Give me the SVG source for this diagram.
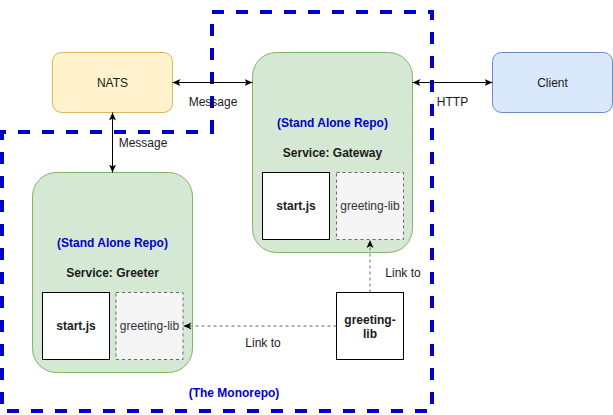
<svg xmlns="http://www.w3.org/2000/svg" width="613" height="415" viewBox="0 0 613 415">
<defs>
<style>
text{font-family:"Liberation Sans",Arial,Helvetica,sans-serif;font-size:12px;text-anchor:middle;fill:#1a1a1a}
.b{font-weight:bold}
.blue{fill:#0000cc;font-weight:bold}
.gray{fill:#333333}
.green{fill:#d5e8d4;stroke:#82b366;stroke-width:1}
.file{fill:#ffffff;stroke:#000000;stroke-width:1}
.lib{fill:#f5f5f5;stroke:#666666;stroke-width:1;stroke-dasharray:3 3}
.edge{fill:none;stroke:#000000;stroke-width:1}
.dedge{fill:none;stroke:#666666;stroke-width:1;stroke-dasharray:3 3}
</style>
<marker id="arr" viewBox="0 0 9 8" refX="8" refY="4" markerWidth="9" markerHeight="8" markerUnits="userSpaceOnUse" orient="auto-start-reverse">
<path d="M0,0.5 L8,4 L0,7.5 L2,4 Z" fill="#000000"/>
</marker>
</defs>
<g id="monorepo">
<path d="M212,132 L212,12 L432,12 L432,411 L2,411 L2,132 Z" fill="none" stroke="#0000cc" stroke-width="4" stroke-dasharray="12 12"/>
<text class="blue" x="234" y="396.5">(The Monorepo)</text>
</g>
<g id="nats">
<rect x="52.5" y="52.5" width="120" height="60" rx="9" fill="#fff2cc" stroke="#d6b656"/>
<text x="112.5" y="86.5">NATS</text>
</g>
<g id="client">
<rect x="492.5" y="52.5" width="120" height="60" rx="9" fill="#dae8fc" stroke="#6c8ebf"/>
<text x="552.5" y="86.5">Client</text>
</g>
<g id="gateway">
<rect class="green" x="252.5" y="52.5" width="160" height="200" rx="24"/>
<text class="blue" x="332.5" y="126.5">(Stand Alone Repo)</text>
<text class="b" x="332.5" y="157">Service: Gateway</text>
</g>
<g id="gateway-start">
<rect class="file" x="262.5" y="172.5" width="67" height="67"/>
<text class="b" x="296" y="210">start.js</text>
</g>
<g id="gateway-lib">
<rect class="lib" x="336.5" y="172.5" width="67" height="67"/>
<text class="gray" x="370" y="210">greeting-lib</text>
</g>
<g id="greeter">
<rect class="green" x="32.5" y="172.5" width="160" height="200" rx="24"/>
<text class="blue" x="112.5" y="246.5">(Stand Alone Repo)</text>
<text class="b" x="112.5" y="276.5">Service: Greeter</text>
</g>
<g id="greeter-start">
<rect class="file" x="42.5" y="292.5" width="67" height="67"/>
<text class="b" x="76" y="330">start.js</text>
</g>
<g id="greeter-lib">
<rect class="lib" x="116" y="292.5" width="67" height="67"/>
<text class="gray" x="149.5" y="330">greeting-lib</text>
</g>
<g id="greeting-lib">
<rect class="file" x="336.5" y="292.5" width="67" height="67"/>
<text class="b" x="370" y="324">greeting-</text>
<text class="b" x="370" y="337.5">lib</text>
</g>
<g id="connectors">
<line class="edge" x1="172.5" y1="82.5" x2="252.5" y2="82.5" marker-start="url(#arr)" marker-end="url(#arr)"/>
<text x="213" y="106">Message</text>
<line class="edge" x1="112.5" y1="112.5" x2="112.5" y2="172.5" marker-start="url(#arr)" marker-end="url(#arr)"/>
<text x="143" y="146.5">Message</text>
<line class="edge" x1="412.5" y1="82.5" x2="492.5" y2="82.5" marker-start="url(#arr)" marker-end="url(#arr)"/>
<text x="452.5" y="106">HTTP</text>
<line class="dedge" x1="370" y1="292.5" x2="370" y2="240" marker-end="url(#arr)"/>
<text x="403" y="277">Link to</text>
<line class="dedge" x1="336.5" y1="326" x2="183.5" y2="326" marker-end="url(#arr)"/>
<text x="263" y="347">Link to</text>
</g>
</svg>
